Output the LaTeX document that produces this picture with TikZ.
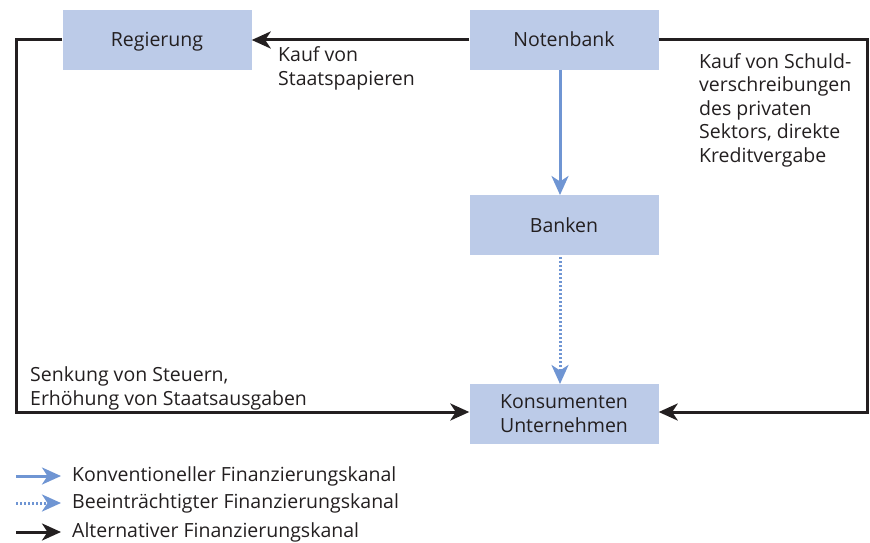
\documentclass[tikz,border=0pt]{standalone}
\usepackage{fontspec}
\setmainfont{Open Sans}
\usetikzlibrary{arrows.meta}
\definecolor{boxfill}{HTML}{BCCBE8}
\definecolor{chanblue}{HTML}{6F95D3}
\definecolor{txt}{HTML}{231F20}
\tikzset{
  box/.style={fill=boxfill, draw=none, minimum width=189pt, minimum height=60pt, inner sep=0pt, font=\fontsize{19.5}{24}\selectfont, text=txt, align=center},
  onebox/.style={box, text height=18pt, text depth=4pt},
  lbl/.style={font=\fontsize{19.5}{23.5}\selectfont, text=txt, align=left, inner sep=0pt, anchor=north west},
  tip/.style={-{Stealth[length=19pt,width=17pt,inset=5.5pt]}},
  alt/.style={draw=txt, line width=3pt, tip},
  conv/.style={draw=chanblue, line width=3pt, tip},
  impair/.style={draw=chanblue, line width=3pt, dash pattern=on 2pt off 2pt, tip},
}
\begin{document}
\begin{tikzpicture}[x=1pt,y=-1pt]
\useasboundingbox (0,0) rectangle (870,543);
\node[onebox] (reg) at (157,40) {Regierung};
\node[onebox] (nb) at (564,40) {Notenbank};
\node[onebox] (bank) at (564,225) {Banken};
\node[box] (kons) at (564,414) {Konsumenten\\Unternehmen};
\coordinate (lt) at (16,40);
\coordinate (lb) at (16,412);
\coordinate (rt) at (867,40);
\coordinate (rb) at (867,412);
\draw[alt] (nb.west) -- (reg.east);
\draw[alt] (reg.west) -- (lt) -- (lb) -- (kons.west |- lb);
\draw[alt] (nb.east) -- (rt) -- (rb) -- (kons.east |- rb);
\draw[conv] (560,70) -- (560,195);
\draw[impair] (560,257) -- (560,384);
\node[lbl] (l1) at (278,46.5) {Kauf von\\Staatspapieren};
\node[lbl] (l2) at (699,53) {Kauf von Schuld-\\verschreibungen\\des privaten\\Sektors, direkte\\Kreditvergabe};
\node[lbl] (l3) at (30,366.5) {Senkung von Steuern,\\Erhöhung von Staatsausgaben};
\coordinate (a1) at (16,476); \coordinate (b1) at (61,476);
\coordinate (a2) at (16,503); \coordinate (b2) at (61,503);
\coordinate (a3) at (16,532); \coordinate (b3) at (61,532);
\draw[conv] (a1) -- (b1);
\draw[impair] (a2) -- (b2);
\draw[alt] (a3) -- (b3);
\node[lbl, anchor=west] (g1) at (72,476) {Konventioneller Finanzierungskanal};
\node[lbl, anchor=west] (g2) at (72,503) {Beeinträchtigter Finanzierungskanal};
\node[lbl, anchor=west] (g3) at (72,532) {Alternativer Finanzierungskanal};
\end{tikzpicture}
\end{document}
